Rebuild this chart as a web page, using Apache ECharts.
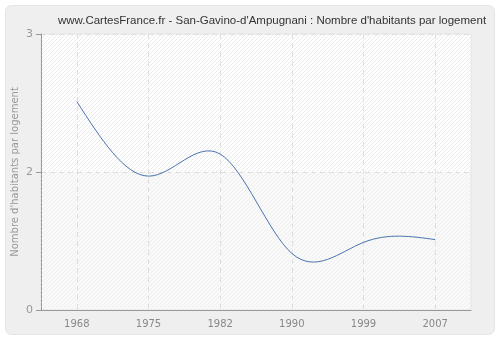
<!DOCTYPE html>
<html>
<head>
<meta charset="utf-8">
<script src="https://cdn.jsdelivr.net/npm/echarts@6/dist/echarts.min.js"></script>
<style>
  html, body { margin: 0; padding: 0; background: #fff; }
  #chart { width: 500px; height: 340px; }
</style>
</head>
<body>
<div id="chart"></div>
<script>
  const years = ['1968', '1975', '1982', '1990', '1999', '2007'];
  const perHousing = [2.51, 1.97, 2.13, 1.41, 1.49, 1.51];
  // the axis runs 1..3 but the bottom tick is labelled 0 in the original
  const yTickLabels = { 1: '0', 2: '2', 3: '3' };
  const yAxisName = "Nombre d'habitants par logement";

  // diagonal hatch for the plot background
  function hatch(bg, line) {
    const s = 4;
    const c = document.createElement('canvas');
    c.width = s;
    c.height = s;
    const ctx = c.getContext('2d');
    ctx.fillStyle = bg;
    ctx.fillRect(0, 0, s, s);
    ctx.strokeStyle = line;
    ctx.lineWidth = 1;
    ctx.beginPath();
    ctx.moveTo(0, s);
    ctx.lineTo(s, 0);
    ctx.moveTo(-1, 1);
    ctx.lineTo(1, -1);
    ctx.moveTo(s - 1, s + 1);
    ctx.lineTo(s + 1, s - 1);
    ctx.stroke();
    return c;
  }

  // natural cubic spline slopes (x step = 1 category)
  function splineSlopes(y) {
    const n = y.length;
    const M = new Array(n).fill(0);
    const cp = [], dp = [];
    for (let i = 1; i < n - 1; i++) {
      const d = 6 * (y[i + 1] - 2 * y[i] + y[i - 1]);
      const prevC = i > 1 ? cp[i - 1] : 0;
      const prevD = i > 1 ? dp[i - 1] : 0;
      const den = 4 - prevC;
      cp[i] = 1 / den;
      dp[i] = (d - prevD) / den;
    }
    for (let i = n - 2; i >= 1; i--) {
      M[i] = dp[i] - cp[i] * M[i + 1];
    }
    const m = [];
    for (let i = 0; i < n - 1; i++) {
      m[i] = (y[i + 1] - y[i]) - (2 * M[i] + M[i + 1]) / 6;
    }
    m[n - 1] = (y[n - 1] - y[n - 2]) + (M[n - 2] + 2 * M[n - 1]) / 6;
    return m;
  }

  const slopes = splineSlopes(perHousing);

  function renderCurve(params, api) {
    if (params.dataIndex !== 0) return null;
    const pts = perHousing.map((v, i) => api.coord([i, v]));
    // pixels per value unit on the y axis
    const unitY = api.coord([0, 2])[1] - api.coord([0, 1])[1];
    let d = 'M' + pts[0][0] + ' ' + pts[0][1];
    for (let i = 0; i < pts.length - 1; i++) {
      const dx = (pts[i + 1][0] - pts[i][0]) / 3;
      const c1 = [pts[i][0] + dx, pts[i][1] + (slopes[i] / 3) * unitY];
      const c2 = [pts[i + 1][0] - dx, pts[i + 1][1] - (slopes[i + 1] / 3) * unitY];
      d += ' C' + c1.join(' ') + ' ' + c2.join(' ') + ' ' + pts[i + 1].join(' ');
    }
    return {
      type: 'path',
      shape: { pathData: d },
      style: { fill: 'none', stroke: '#4a74ad', lineWidth: 1 },
    };
  }

  const chart = echarts.init(document.getElementById('chart'));
  const option = {
    backgroundColor: '#fff',
    graphic: [
      {
        type: 'rect',
        z: -10,
        shape: { x: 5.5, y: 5.5, width: 489, height: 329, r: 6 },
        style: { fill: '#efefef', stroke: '#e4e4e4', lineWidth: 1 },
      },
      {
        type: 'text',
        x: 15,
        y: 172,
        rotation: Math.PI / 2,
        style: {
          text: yAxisName,
          fill: '#999',
          font: '10px "DejaVu Sans"',
          align: 'center',
          verticalAlign: 'middle',
        },
      },
    ],
    title: {
      text: "www.CartesFrance.fr - San-Gavino-d'Ampugnani : Nombre d'habitants par logement",
      left: 267,
      textAlign: 'center',
      top: 10,
      textStyle: {
        fontFamily: 'Liberation Sans',
        fontSize: 11.5,
        fontWeight: 'normal',
        color: '#333',
      },
    },
    grid: {
      left: 41,
      right: 29,
      top: 34,
      bottom: 30,
      outerBoundsMode: 'none',
      containLabel: false,
      show: true,
      borderColor: '#e6e6e6',
      borderWidth: 1,
      backgroundColor: { image: hatch('#ffffff', '#ebebeb'), repeat: 'repeat' },
    },
    xAxis: {
      type: 'category',
      data: years,
      boundaryGap: true,
      axisLine: { lineStyle: { color: '#999', width: 1 } },
      axisTick: { alignWithLabel: true, length: 5, lineStyle: { color: '#999' } },
      axisLabel: {
        color: '#888',
        fontFamily: 'DejaVu Sans',
        fontSize: 10,
        margin: 9,
      },
      splitLine: {
        show: true,
        alignWithLabel: true,
        lineStyle: { color: '#e0e0e0', type: [5, 4] },
      },
    },
    yAxis: {
      type: 'value',
      min: 1,
      max: 3,
      interval: 1,
      axisLine: { show: true, lineStyle: { color: '#999', width: 1 } },
      axisTick: { show: true, length: 5, lineStyle: { color: '#999' } },
      axisLabel: {
        color: '#999',
        fontFamily: 'DejaVu Sans',
        fontSize: 11,
        margin: 8,
        formatter: (v) => yTickLabels[v],
      },
      splitLine: { show: true, lineStyle: { color: '#e0e0e0', type: [5, 4] } },
    },
    series: [
      {
        type: 'custom',
        renderItem: renderCurve,
        data: perHousing.map((v, i) => [i, v]),
        encode: { x: 0, y: 1 },
        clip: true,
        markArea: {
          silent: true,
          itemStyle: {
            color: { image: hatch('rgba(0,0,0,0.022)', 'rgba(255,255,255,0.35)'), repeat: 'repeat' },
          },
          data: [[{ yAxis: 1 }, { yAxis: 2 }]],
        },
      },
    ],
  };
  chart.setOption(option);
</script>
</body>
</html>
